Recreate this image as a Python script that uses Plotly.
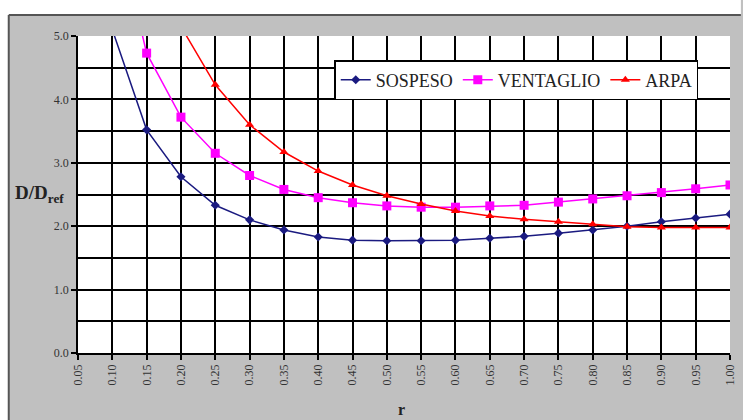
import plotly.graph_objects as go

r = [0.05, 0.10, 0.15, 0.20, 0.25, 0.30, 0.35, 0.40, 0.45, 0.50, 0.55,
     0.60, 0.65, 0.70, 0.75, 0.80, 0.85, 0.90, 0.95, 1.00]
sospeso = [None, 5.10, 3.52, 2.78, 2.33, 2.10, 1.94, 1.83, 1.78, 1.77, 1.77,
           1.78, 1.81, 1.84, 1.89, 1.94, 2.00, 2.07, 2.13, 2.19]
ventaglio = [None, 7.0, 4.73, 3.72, 3.15, 2.80, 2.58, 2.45, 2.37, 2.32, 2.30,
             2.30, 2.32, 2.33, 2.38, 2.43, 2.48, 2.53, 2.59, 2.65]
arpa = [None, None, None, 5.15, 4.23, 3.60, 3.17, 2.87, 2.65, 2.48, 2.35,
        2.24, 2.16, 2.11, 2.07, 2.03, 1.99, 1.98, 1.98, 1.98]

SERIF = "Liberation Serif, Times New Roman, serif"

fig = go.Figure()
fig.add_trace(go.Scatter(x=r, y=sospeso, name="SOSPESO", mode="lines+markers",
                         line=dict(color="#1a1a80", width=1.5),
                         marker=dict(symbol="diamond", size=7, color="#1a1a80")))
fig.add_trace(go.Scatter(x=r, y=ventaglio, name="VENTAGLIO", mode="lines+markers",
                         line=dict(color="#ff00ff", width=1.5),
                         marker=dict(symbol="square", size=9, color="#ff00ff")))
fig.add_trace(go.Scatter(x=r, y=arpa, name="ARPA", mode="lines+markers",
                         line=dict(color="#ff0000", width=1.5),
                         marker=dict(symbol="triangle-up", size=8, color="#ff0000")))

W, H = 743, 420
L, R, T, B = 78, 6, 36, 67
pw, ph = W - L - R, H - T - B

def px(xp):
    return (xp - L) / pw

def py(yp):
    return (H - B - yp) / ph

fig.update_layout(
    width=W, height=H,
    margin=dict(l=L, r=R, t=T, b=B),
    paper_bgcolor="#c0c0c0",
    plot_bgcolor="white",
    font=dict(family=SERIF, size=12, color="#222"),
    showlegend=True,
    legend=dict(orientation="h", x=px(337), y=py(60), xanchor="left", yanchor="top",
                bgcolor="white", bordercolor="black", borderwidth=1.5,
                font=dict(family=SERIF, size=18, color="#222"),
                itemwidth=30, tracegroupgap=0),
    xaxis=dict(range=[0.05, 1.0], tickmode="array", tickvals=r,
               ticktext=[f"{v:.2f}" for v in r], tickangle=-90,
               ticklabeloverflow="allow",
               showgrid=True, gridcolor="black", gridwidth=1.5,
               showline=True, linecolor="black", linewidth=1.5,
               ticks="outside", ticklen=5, tickcolor="black", tickwidth=1.5,
               tickfont=dict(family=SERIF, size=12, color="#333"),
               zeroline=False, mirror=False),
    yaxis=dict(range=[0, 5.0], tickmode="linear", tick0=0, dtick=1.0,
               tickformat=".1f",
               showgrid=True, gridcolor="black", gridwidth=1.5,
               minor=dict(dtick=0.5, showgrid=True, gridcolor="black", gridwidth=1.5),
               showline=True, linecolor="black", linewidth=1.5,
               ticks="outside", ticklen=5, tickcolor="black", tickwidth=1.5,
               tickfont=dict(family=SERIF, size=12, color="#333"),
               zeroline=False),
    shapes=[
        dict(type="rect", xref="paper", yref="paper", x0=px(-5), x1=px(W + 5),
             y0=py(15), y1=py(-5), fillcolor="white", line=dict(width=0), layer="below"),
        dict(type="rect", xref="paper", yref="paper", x0=px(-5), x1=px(8),
             y0=py(H + 5), y1=py(-5), fillcolor="white", line=dict(width=0), layer="below"),
        dict(type="line", xref="paper", yref="paper", x0=px(8), x1=px(W + 5),
             y0=py(15), y1=py(15), line=dict(color="#555", width=2), layer="below"),
        dict(type="line", xref="paper", yref="paper", x0=px(8), x1=px(8),
             y0=py(15), y1=py(H + 5), line=dict(color="#555", width=2), layer="below"),
    ],
    annotations=[
        dict(text="<b>D/D<sub>ref</sub></b>", xref="paper", yref="paper",
             x=px(12), y=py(194), xanchor="left", yanchor="middle", showarrow=False,
             font=dict(family=SERIF, size=19, color="#222")),
        dict(text="<b>r</b>", xref="paper", yref="paper",
             x=px(405), y=py(409), xanchor="center", yanchor="middle", showarrow=False,
             font=dict(family=SERIF, size=16, color="#222")),
    ],
)

fig.write_html("out.html")
